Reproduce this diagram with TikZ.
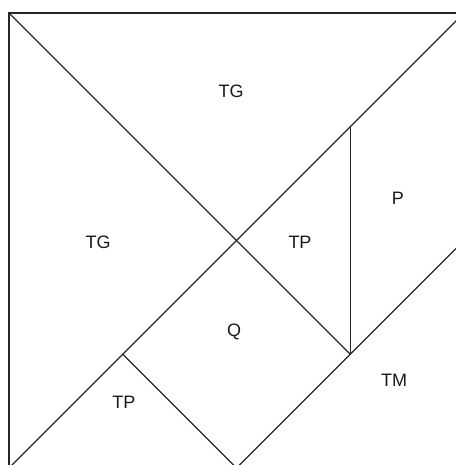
\documentclass[tikz,border=0pt]{standalone}
\usepackage{fontspec}
\setmainfont{Liberation Sans}
\begin{document}
\begin{tikzpicture}[x=0.75pt,y=-0.75pt,
  edge/.style={line width=1pt,black!85},
  lbl/.style={font=\fontsize{13.5}{15}\selectfont,text=black!90,inner sep=0pt}]
\useasboundingbox (0,0) rectangle (456,465);
\clip (0,0) rectangle (456,465);
\coordinate (TL) at (9,13);
\coordinate (TR) at (464,13);
\coordinate (BL) at (9,468);
\coordinate (BR) at (464,468);
\coordinate (C) at (236.5,240.5);
\coordinate (M1) at (350.25,126.75);
\coordinate (M2) at (350.25,354.25);
\coordinate (M3) at (122.75,354.25);
\coordinate (Bm) at (236.5,468);
\coordinate (Rm) at (464,240.5);
\draw[edge] (BL) -- (TL) -- (TR) -- (BR) -- cycle;
\draw[edge] (TL) -- (C) -- (M2);
\draw[edge] (BL) -- (TR);
\draw[edge] (M1) -- (M2);
\draw[edge] (M3) -- (Bm) -- (Rm);
\node[lbl] (tg1) at (231,91) {TG};
\node[lbl] (tg2) at (98,242) {TG};
\node[lbl] (tp1) at (300,242) {TP};
\node[lbl] (p) at (398,198) {P};
\node[lbl] (q) at (234,332) {Q};
\node[lbl] (tm) at (394,380) {TM};
\node[lbl] (tp2) at (124,402) {TP};
\end{tikzpicture}
\end{document}
